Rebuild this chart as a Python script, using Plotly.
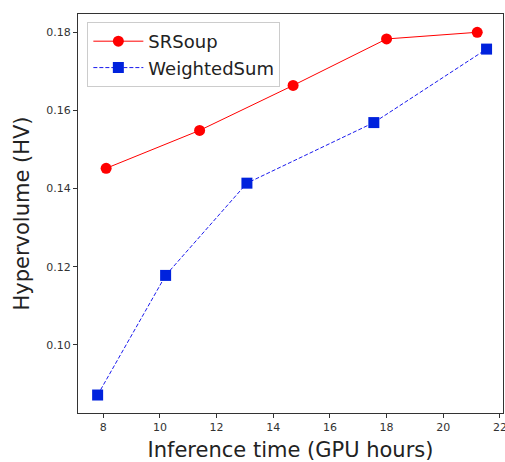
import plotly.graph_objects as go

sr_x = [8.1, 11.4, 14.7, 18.0, 21.2]
sr_y = [0.1452, 0.1549, 0.1664, 0.1783, 0.1800]
ws_x = [7.8, 10.2, 13.07, 17.55, 21.53]
ws_y = [0.0872, 0.1178, 0.1414, 0.1569, 0.1757]
x_ticks = [8, 10, 12, 14, 16, 18, 20, 22]
y_ticks = [0.10, 0.12, 0.14, 0.16, 0.18]

fig = go.Figure()
fig.add_trace(go.Scatter(x=sr_x, y=sr_y, mode="lines+markers", name="SRSoup",
                         line=dict(color="#ff0000", width=1),
                         marker=dict(symbol="circle", size=11, color="#ff0000")))
fig.add_trace(go.Scatter(x=ws_x, y=ws_y, mode="lines+markers", name="WeightedSum",
                         line=dict(color="#1a1aee", width=1, dash="4px,2px"),
                         marker=dict(symbol="square", size=11, color="#0022dd")))

axis_common = dict(showgrid=False, zeroline=False, showline=True, linecolor="#333",
                   linewidth=1, mirror=True, ticks="outside", ticklen=4, tickcolor="#333",
                   automargin=False, ticklabeloverflow="allow",
                   tickfont=dict(size=11, color="#333", family="DejaVu Sans"))
fig.update_xaxes(range=[7.107, 22.11], tickvals=x_ticks, ticktext=[str(v) for v in x_ticks],
                 title=dict(text="Inference time (GPU hours)", font=dict(size=21, color="#222", family="DejaVu Sans"), standoff=9),
                 **axis_common)
fig.update_yaxes(range=[0.0826, 0.18468], tickvals=y_ticks, ticktext=[f"{v:.2f}" for v in y_ticks],
                 title=dict(text="Hypervolume (HV)", font=dict(size=21, color="#222", family="DejaVu Sans"), standoff=10),
                 **axis_common)
fig.update_layout(width=505, height=462, margin=dict(l=78, r=2, t=14, b=49),
                  plot_bgcolor="white", paper_bgcolor="white",
                  font=dict(family="DejaVu Sans"),
                  legend=dict(x=0.022, y=0.98, xanchor="left", yanchor="top",
                              bgcolor="white", bordercolor="#ccc", borderwidth=1,
                              font=dict(size=18, color="#222"), itemwidth=50,
                              tracegroupgap=0),
                  showlegend=True)
fig.write_html("out.html")
